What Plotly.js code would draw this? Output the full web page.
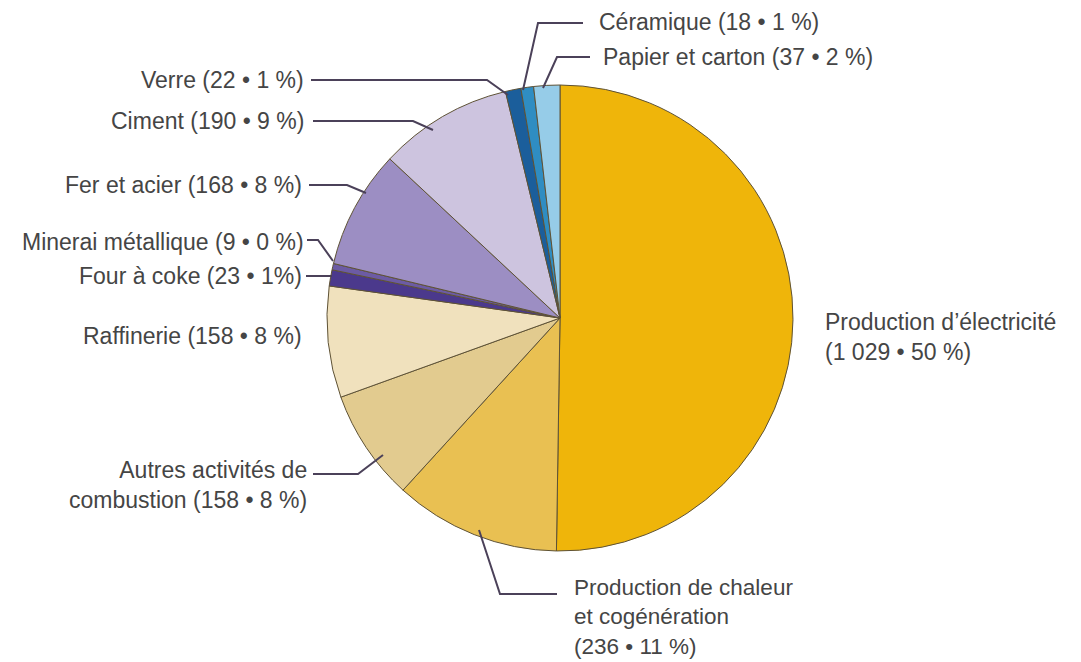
<!DOCTYPE html>
<html>
<head>
<meta charset="utf-8">
<script src="https://cdn.plot.ly/plotly-3.0.1.min.js"></script>
<style>html,body{margin:0;padding:0;background:#fff;}#chart{width:1081px;height:662px;}</style>
</head>
<body>
<div id="chart"></div>
<script>
// Data (clockwise from 12 o'clock)
const categories = ["Production d’électricité", "Production de chaleur et cogénération", "Autres activités de combustion", "Raffinerie", "Four à coke", "Minerai métallique", "Fer et acier", "Ciment", "Verre", "Céramique", "Papier et carton"];
const values = [1029, 236, 158, 158, 23, 9, 168, 190, 22, 18, 37];
const percents = [50, 11, 8, 8, 1, 0, 8, 9, 1, 1, 2];
const labelTexts = [
  "Production d’électricité<br>(1 029 • 50 %)",
  "Production de chaleur<br>et cogénération<br>(236 • 11 %)",
  "Autres activités de<br>combustion (158 • 8 %)",
  "Raffinerie (158 • 8 %)",
  "Four à coke (23 • 1%)",
  "Minerai métallique (9 • 0 %)",
  "Fer et acier (168 • 8 %)",
  "Ciment (190 • 9 %)",
  "Verre (22 • 1 %)",
  "Céramique (18 • 1 %)",
  "Papier et carton (37 • 2 %)"
];
const colors = ["#EFB50A", "#E9C052", "#E2CB8F", "#F0E1BD", "#4B398C", "#6C5BA4", "#9C8EC3", "#CDC4DF", "#1B5E9B", "#2F8DC2", "#96CCE8"];

// Layout helpers (pixel positions converted to paper coordinates)
const W = 1081, H = 662;
const px = x => x / W, py = y => 1 - y / H;
const cx = 560, cy = 318, R = 233;

// label placement: [x, y, anchor, fontsize]
const labelPos = [
  [823, 337, "left", 23],
  [572, 617, "left", 22.5],
  [309, 485, "right", 23],
  [304, 336, "right", 23],
  [304, 276, "right", 23],
  [306, 242, "right", 23],
  [304, 185, "right", 23],
  [306, 121, "right", 23],
  [306, 80, "right", 23],
  [597, 22, "left", 23],
  [601, 57, "left", 23]
];
// leader polylines
const leaders = [
  null,
  [[557,594],[500,594],[479,530]],
  [[313,474],[358,474],[383,455]],
  null,
  [[306,276],[332,276]],
  [[307,240],[318,240],[333,261]],
  [[309,185],[347,185],[366,193]],
  [[313,121],[413,121],[433,130]],
  [[311,80],[487,80],[508,95]],
  [[583,23],[538,23],[523,90]],
  [[590,57],[557,57],[543,88]]
];

const annotations = labelTexts.map((t, i) => ({
  text: t, xref: "paper", yref: "paper",
  x: px(labelPos[i][0]), y: py(labelPos[i][1]),
  xanchor: labelPos[i][2], yanchor: "middle", align: labelPos[i][2],
  showarrow: false,
  font: {family: "Liberation Sans, Arial, sans-serif", size: labelPos[i][3], color: "#454545"}
}));

const shapes = leaders.filter(l => l).map(l => ({
  type: "path", xref: "paper", yref: "paper",
  path: "M " + l.map(p => px(p[0]) + "," + py(p[1])).join(" L "),
  line: {color: "#4b4159", width: 2}
}));

const trace = {
  type: "pie",
  labels: categories,
  values: values,
  customdata: percents,
  sort: false,
  direction: "clockwise",
  rotation: 0,
  textinfo: "none",
  hoverinfo: "label+value",
  marker: {colors: colors, line: {color: "#5e5236", width: 1}},
  domain: {x: [px(cx - R), px(cx + R)], y: [py(cy + R), py(cy - R)]},
  showlegend: false
};

const layout = {
  width: W, height: H,
  margin: {l: 0, r: 0, t: 0, b: 0},
  paper_bgcolor: "#ffffff",
  showlegend: false,
  annotations: annotations,
  shapes: shapes
};

Plotly.newPlot("chart", [trace], layout, {displayModeBar: false, staticPlot: true});
</script>
</body>
</html>
